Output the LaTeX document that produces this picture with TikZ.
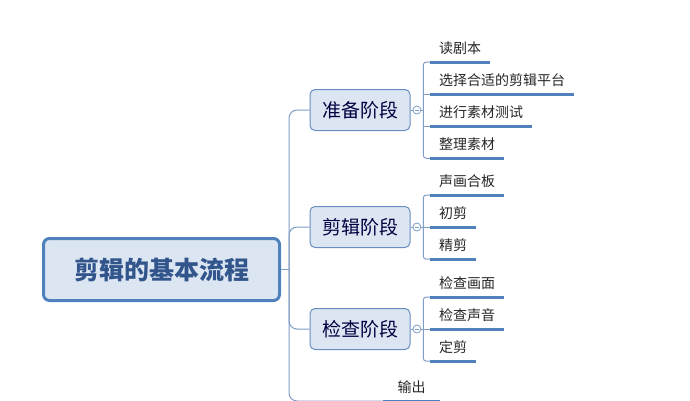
\documentclass[tikz,border=0pt]{standalone}
\usepackage{fontspec}
\setmainfont{Noto Sans CJK SC}
\usetikzlibrary{positioning}

\definecolor{rootblue}{RGB}{79,129,189}
\definecolor{rootfill}{RGB}{220,230,242}
\definecolor{roottext}{RGB}{50,86,140}
\definecolor{linegray}{RGB}{127,157,198}
\definecolor{boxline}{RGB}{104,142,194}

\begin{document}
\begin{tikzpicture}[
    x=1pt, y=1pt,
    node distance=6.7pt,
    root/.style={
        rectangle,
        draw=rootblue,
        line width=3pt,
        fill=rootfill,
        rounded corners=6pt,
        minimum width=236pt,
        minimum height=62pt,
        font=\fontsize{25}{28}\selectfont\bfseries,
        text=roottext
    },
    stage/.style={
        rectangle,
        draw=boxline,
        line width=1pt,
        fill=rootfill,
        rounded corners=5pt,
        minimum width=100pt,
        minimum height=41pt,
        font=\fontsize{19}{22}\selectfont,
        text=black!75!blue
    },
    leaf/.style={
        inner xsep=9pt,
        inner ysep=6.5pt,
        text height=10pt,
        text depth=2pt,
        font=\fontsize{14}{16}\selectfont,
        text=black!85
    },
    uline/.style={draw=rootblue, line width=3pt},
    link/.style={draw=linegray, line width=1pt},
    knob/.style={circle, draw=linegray, fill=white, line width=0.8pt, minimum size=8pt, inner sep=0pt}
]
\path[use as bounding box] (0,0) rectangle (690,-400);
\clip (0,0) rectangle (690,-400);

% root and trunk
\node[root] (root) at (161.5,-269.5) {剪辑的基本流程};
\coordinate (trunk) at (289,-269.5);

% the stages
\node[stage] (prep) at (360,-110) {准备阶段};
\node[stage] (edit) at (360,-227) {剪辑阶段};
\node[stage] (check) at (360,-329) {检查阶段};
\node[leaf, anchor=south west, minimum width=57pt, inner xsep=0pt] (out) at (383,-401) {输出};

\draw[link] (root.east) -- (trunk);
\draw[link, rounded corners=8pt] (trunk) |- (prep.west);
\draw[link, rounded corners=8pt] (trunk) |- (edit.west);
\draw[link, rounded corners=8pt] (trunk) |- (check.west);
\draw[link, rounded corners=8pt] (trunk) |- (out.south west);
\draw[uline] (out.south west) -- (out.south east);

% collapse knobs
\foreach \s/\k in {prep/kp, edit/ke, check/kc} {
    \node[knob, right=2pt of \s] (\k) {};
    \draw[link] (\s.east) -- (\k.west);
    \draw[linegray, line width=0.6pt] ([xshift=-2pt]\k.center) -- ([xshift=2pt]\k.center);
    \draw[link] (\k.east) -- ++(2,0) coordinate (j\k);
}

% prep leaves
\node[leaf, anchor=south west] (p1) at (430,-62) {读剧本};
\node[leaf, below=of p1.south west, anchor=north west] (p2) {选择合适的剪辑平台};
\node[leaf, below=of p2.south west, anchor=north west] (p3) {进行素材测试};
\node[leaf, below=of p3.south west, anchor=north west] (p4) {整理素材};

% edit leaves
\node[leaf, anchor=south west] (e1) at (430,-195) {声画合板};
\node[leaf, below=of e1.south west, anchor=north west] (e2) {初剪};
\node[leaf, below=of e2.south west, anchor=north west] (e3) {精剪};

% check leaves
\node[leaf, anchor=south west] (c1) at (430,-297) {检查画面};
\node[leaf, below=of c1.south west, anchor=north west] (c2) {检查声音};
\node[leaf, below=of c2.south west, anchor=north west] (c3) {定剪};

% brackets
\draw[link, rounded corners=3pt] (p1.south west) -| (jkp) |- (p4.south west);
\draw[link] (p2.south west) -- (p2.south west -| jkp);
\draw[link] (p3.south west) -- (p3.south west -| jkp);
\draw[link, rounded corners=3pt] (e1.south west) -| (jke) |- (e3.south west);
\draw[link] (e2.south west) -- (e2.south west -| jke);
\draw[link, rounded corners=3pt] (c1.south west) -| (jkc) |- (c3.south west);
\draw[link] (c2.south west) -- (c2.south west -| jkc);

% underlines
\foreach \n in {p1,p2,p3,p4,e1,e2,e3,c1,c2,c3}
    \draw[uline] (\n.south west) -- (\n.south east);

\end{tikzpicture}
\end{document}
